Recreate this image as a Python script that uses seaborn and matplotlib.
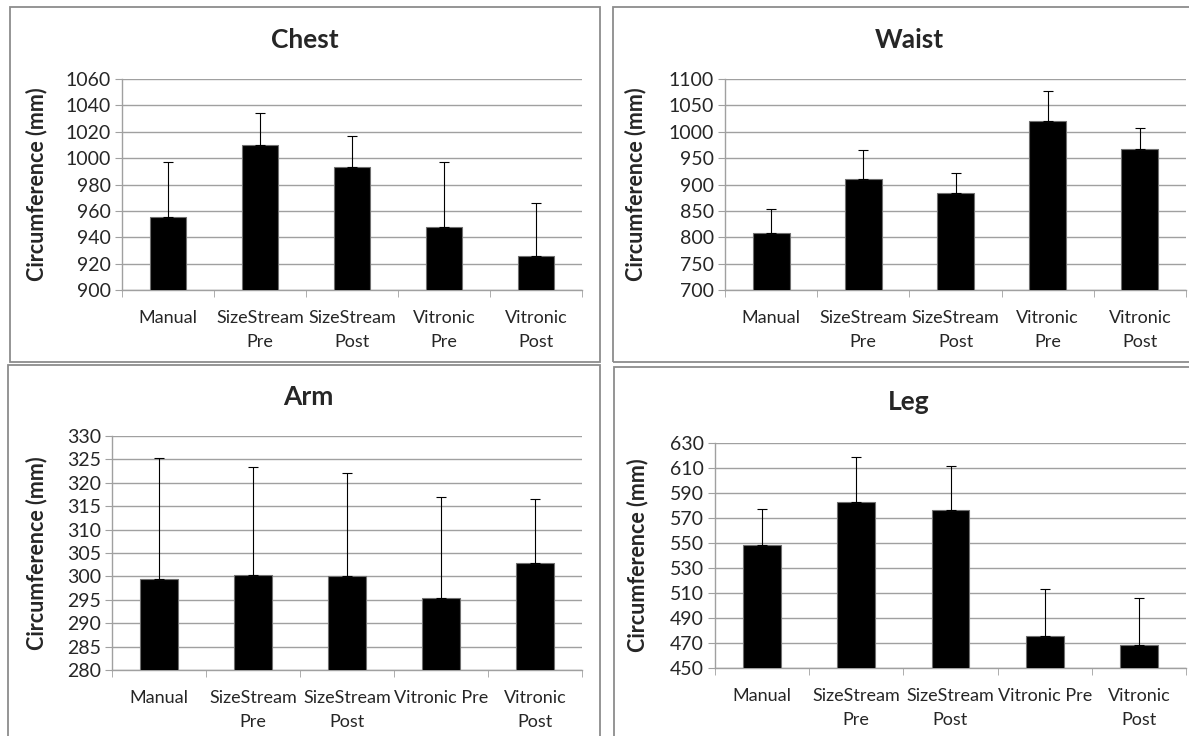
import numpy as np
import pandas as pd
import matplotlib
matplotlib.use("Agg")
import matplotlib.pyplot as plt
import seaborn as sns
from matplotlib.patches import Rectangle

sns.set_style("white")
plt.rcParams['font.family'] = ['Lato', 'DejaVu Sans']

# categories (two label styles used in the original)
labels_top = ["Manual", "SizeStream\nPre", "SizeStream\nPost", "Vitronic\nPre", "Vitronic\nPost"]
labels_bottom = ["Manual", "SizeStream\nPre", "SizeStream\nPost", "Vitronic Pre", "Vitronic\nPost"]

# mean circumference (mm) and SD
chest_mean = [955, 1010, 993.5, 948, 926]
chest_sd = [42, 24, 23, 49, 40]
waist_mean = [808, 911, 883, 1020, 967]
waist_sd = [45, 54, 38, 57, 41]
arm_mean = [299.5, 300.4, 300.0, 295.3, 302.9]
arm_sd = [25.7, 23.0, 22.2, 21.6, 13.6]
leg_mean = [548, 583, 576.5, 475.5, 468]
leg_sd = [29, 35.5, 35, 38, 38]

W, H = 1189, 736
fig = plt.figure(figsize=(W / 100, H / 100), dpi=100)

grid_col = "#a0a0a0"


def px_axes(left, right, top, bottom):
    return fig.add_axes([left / W, 1 - bottom / H, (right - left) / W, (bottom - top) / H])


panels = [
    # title, means, sds, labels, ylim, step, axes px (l, r, t, b), box px (l, t, r, b), title xy, ylabel x
    ("Chest", chest_mean, chest_sd, labels_top, (900, 1060), 20, (122, 582, 79, 290), (10, 7, 600, 362), (305, 40), 47),
    ("Waist", waist_mean, waist_sd, labels_top, (700, 1100), 50, (725, 1186, 79, 290), (613, 7, 1195, 362), (909, 40), 646),
    ("Arm", arm_mean, arm_sd, labels_bottom, (280, 330), 5, (112, 582, 436, 670), (8, 365, 600, 745), (308, 397), 47),
    ("Leg", leg_mean, leg_sd, labels_bottom, (450, 630), 20, (715, 1186, 443, 668), (614, 367, 1195, 745), (909, 402), 648),
]

for title, means, sds, labels, ylim, step, apx, bpx, tpos, ylx in panels:
    # panel frame
    fig.patches.append(Rectangle((bpx[0] / W, 1 - bpx[3] / H), (bpx[2] - bpx[0]) / W, (bpx[3] - bpx[1]) / H,
                                 transform=fig.transFigure, fill=False, edgecolor="#8c8c8c", lw=1.3, zorder=0))
    ax = px_axes(*apx)
    df = pd.DataFrame({"method": labels, "mean": means})
    sns.barplot(data=df, x="method", y="mean", color="black", width=0.4,
                edgecolor="#707070", linewidth=0.8, ax=ax, zorder=3)
    ax.errorbar(np.arange(len(means)), means, yerr=[np.zeros(len(sds)), sds],
                fmt="none", ecolor="black", elinewidth=0.8, capsize=3.5, capthick=0.8, zorder=4)
    ax.set_ylim(*ylim)
    ax.set_xlim(-0.5, len(means) - 0.5)
    ax.set_yticks(np.arange(ylim[0], ylim[1] + 1, step))
    ax.yaxis.grid(True, color=grid_col, lw=1.0)
    ax.set_axisbelow(True)
    for s in ["top", "right"]:
        ax.spines[s].set_visible(False)
    for s in ["left", "bottom"]:
        ax.spines[s].set_color(grid_col)
        ax.spines[s].set_linewidth(1.0)
    ax.tick_params(axis="y", which="major", left=True, length=5, color=grid_col, labelsize=14, pad=3)
    ax.tick_params(axis="x", which="major", bottom=False, labelsize=13, pad=11)
    ax.set_xticks(np.arange(-0.5, len(means)), minor=True)
    ax.tick_params(axis="x", which="minor", bottom=True, length=5, color=grid_col)
    for t in ax.get_xticklabels():
        t.set_linespacing(1.6)
    ax.set_xlabel("")
    ax.set_ylabel("Circumference (mm)", fontsize=15.5, fontweight="bold")
    ax.yaxis.set_label_coords((ylx - apx[0]) / (apx[1] - apx[0]), 0.5)
    fig.text(tpos[0] / W, 1 - tpos[1] / H, title, ha="center", va="center", fontsize=19, fontweight="bold")

fig.savefig("out.png", dpi=100)
